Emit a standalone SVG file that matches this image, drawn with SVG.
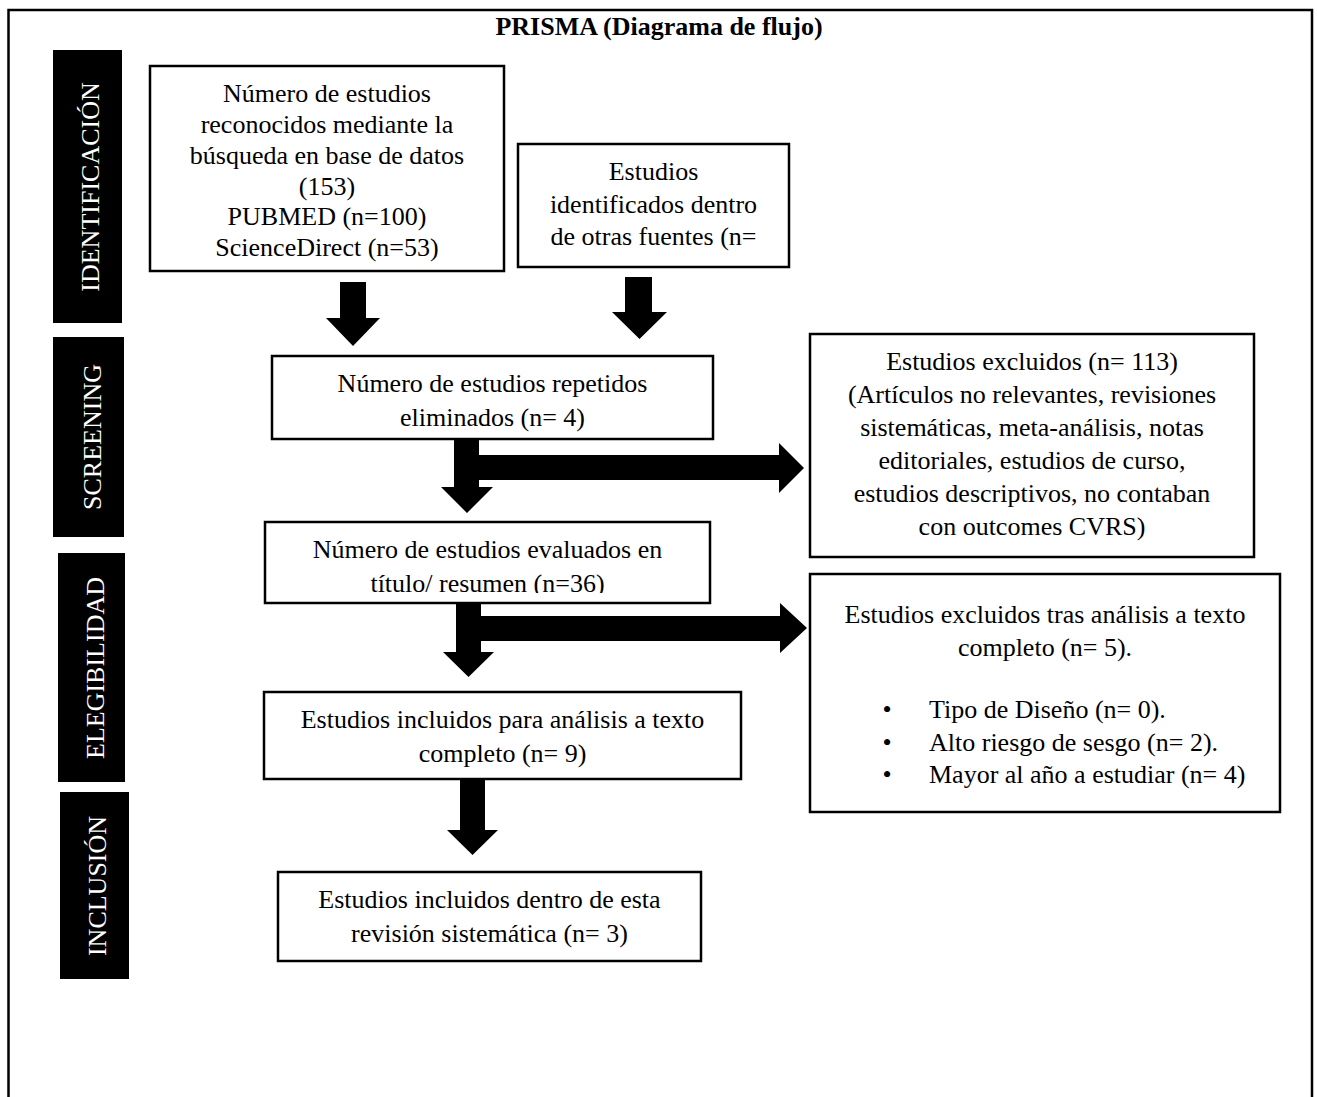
<svg xmlns="http://www.w3.org/2000/svg" width="1317" height="1097" viewBox="0 0 1317 1097">
<style>
.box{fill:#fff;stroke:#000;stroke-width:2.5}
.t{font-family:"Liberation Serif","Times New Roman",serif;font-size:26px;fill:#000;text-anchor:middle}
.tl{font-family:"Liberation Serif","Times New Roman",serif;font-size:26px;fill:#000}
.lab{fill:#000}
.lt{font-family:"Liberation Serif","Times New Roman",serif;font-size:26px;fill:#fff;text-anchor:middle}
.title{font-family:"Liberation Serif","Times New Roman",serif;font-size:26px;font-weight:bold;fill:#000;text-anchor:middle}
.arr{fill:#000}
</style>
<defs>
<clipPath id="clip4"><rect x="265" y="522" width="445" height="71"/></clipPath>
</defs>
<rect width="1317" height="1097" fill="#fff"/>
<path d="M8.5,1100 V10 H1312 V1100" fill="none" stroke="#000" stroke-width="2.5"/>
<text class="title" x="659" y="35">PRISMA (Diagrama de flujo)</text>

<g id="label-identificacion">
<rect class="lab" x="53" y="50" width="69" height="273"/>
<text class="lt" transform="translate(99,187) rotate(-90)">IDENTIFICACIÓN</text>
</g>
<g id="label-screening">
<rect class="lab" x="53" y="337" width="71" height="200"/>
<text class="lt" transform="translate(101,437) rotate(-90)">SCREENING</text>
</g>
<g id="label-elegibilidad">
<rect class="lab" x="58" y="553" width="67" height="229"/>
<text class="lt" transform="translate(104,668) rotate(-90)">ELEGIBILIDAD</text>
</g>
<g id="label-inclusion">
<rect class="lab" x="60" y="792" width="69" height="187"/>
<text class="lt" transform="translate(106,886) rotate(-90)">INCLUSIÓN</text>
</g>

<g id="connectors">
<polygon class="arr" points="340,282 366,282 366,318 380,318 353,346 326,318 340,318"/>
<polygon class="arr" points="625,277 652,277 652,312 667,312 639.5,339 612,312 625,312"/>
<polygon class="arr" points="454,439 479,439 479,455 779,455 779,443 804,468 779,493 779,480 479,480 479,487 493,487 467,513 441,487 454,487"/>
<polygon class="arr" points="456,601 481,601 481,616 780,616 780,603 807,628 780,653 780,641 481,641 481,652 494,652 468.5,677 443,652 456,652"/>
<polygon class="arr" points="460,779 485,779 485,830 498,830 472.5,855 447,830 460,830"/>
</g>

<g id="node-busqueda">
<rect class="box" x="150" y="66" width="354" height="205"/>
<text class="t" x="327" y="102">Número de estudios</text>
<text class="t" x="327" y="133">reconocidos mediante la</text>
<text class="t" x="327" y="164">búsqueda en base de datos</text>
<text class="t" x="327" y="195">(153)</text>
<text class="t" x="327" y="225">PUBMED (n=100)</text>
<text class="t" x="327" y="256">ScienceDirect (n=53)</text>
</g>

<g id="node-otras-fuentes">
<rect class="box" x="518" y="144" width="271" height="123"/>
<text class="t" x="653.5" y="180">Estudios</text>
<text class="t" x="653.5" y="213">identificados dentro</text>
<text class="t" x="653.5" y="245">de otras fuentes (n=</text>
</g>

<g id="node-repetidos">
<rect class="box" x="272" y="356" width="441" height="83"/>
<text class="t" x="492.5" y="392">Número de estudios repetidos</text>
<text class="t" x="492.5" y="426">eliminados (n= 4)</text>
</g>

<g id="node-evaluados">
<rect class="box" x="265" y="522" width="445" height="81"/>
<g clip-path="url(#clip4)">
<text class="t" x="487.5" y="558">Número de estudios evaluados en</text>
<text class="t" x="487.5" y="592">título/ resumen (n=36)</text>
</g>
</g>

<g id="node-excluidos-113">
<rect class="box" x="810" y="334" width="444" height="223"/>
<text class="t" x="1032" y="370">Estudios excluidos (n= 113)</text>
<text class="t" x="1032" y="403">(Artículos no relevantes, revisiones</text>
<text class="t" x="1032" y="436">sistemáticas, meta-análisis, notas</text>
<text class="t" x="1032" y="469">editoriales, estudios de curso,</text>
<text class="t" x="1032" y="502">estudios descriptivos, no contaban</text>
<text class="t" x="1032" y="535">con outcomes CVRS)</text>
</g>

<g id="node-excluidos-5">
<rect class="box" x="810" y="574" width="470" height="238"/>
<text class="t" x="1045" y="623">Estudios excluidos tras análisis a texto</text>
<text class="t" x="1045" y="656">completo (n= 5).</text>
<text class="t" x="887" y="718">•</text>
<text class="tl" x="929" y="718">Tipo de Diseño (n= 0).</text>
<text class="t" x="887" y="751">•</text>
<text class="tl" x="929" y="751">Alto riesgo de sesgo (n= 2).</text>
<text class="t" x="887" y="783">•</text>
<text class="tl" x="929" y="783">Mayor al año a estudiar (n= 4)</text>
</g>

<g id="node-texto-completo">
<rect class="box" x="264" y="692" width="477" height="87"/>
<text class="t" x="502.5" y="728">Estudios incluidos para análisis a texto</text>
<text class="t" x="502.5" y="762">completo (n= 9)</text>
</g>

<g id="node-incluidos">
<rect class="box" x="278" y="872" width="423" height="89"/>
<text class="t" x="489.5" y="908">Estudios incluidos dentro de esta</text>
<text class="t" x="489.5" y="942">revisión sistemática (n= 3)</text>
</g>
</svg>
